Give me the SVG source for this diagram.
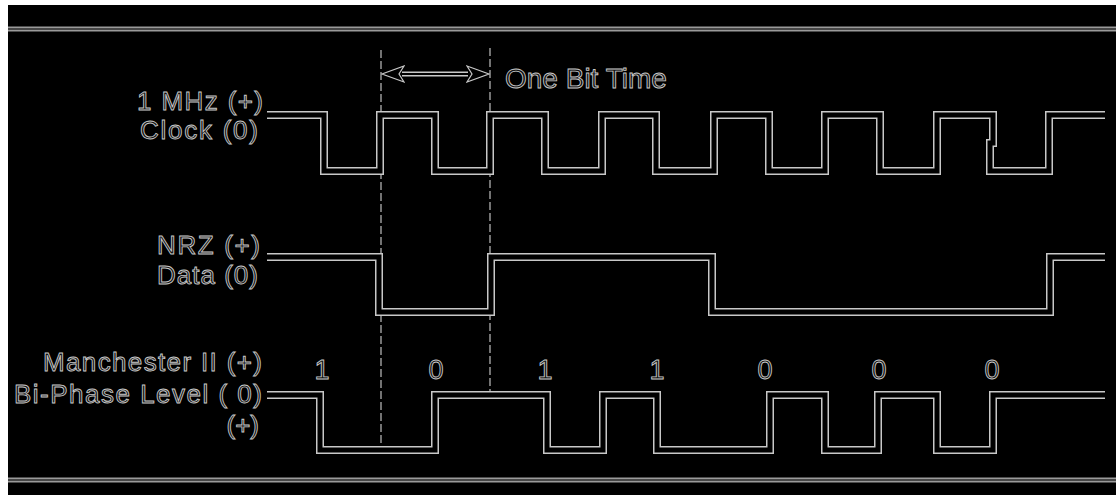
<svg xmlns="http://www.w3.org/2000/svg" width="1119" height="495" viewBox="0 0 1119 495">
<defs>
<style>
.wave-o{fill:none;stroke:#c8c8c8;stroke-width:8;stroke-linejoin:miter;stroke-linecap:butt}
.wave-i{fill:none;stroke:#000;stroke-width:5;stroke-linejoin:miter;stroke-linecap:butt}
.rule-o{fill:none;stroke:#9a9a9a;stroke-width:5}
.rule-i{fill:none;stroke:#2a2a2a;stroke-width:1.5}
.dash{fill:none;stroke:#b0b0b0;stroke-width:1.3;stroke-dasharray:8 3}
.lbl{font-family:"Liberation Sans",Arial,sans-serif;font-size:26px;fill:#111;stroke:#c8c8c8;stroke-width:0.9;text-anchor:end}
.dig{font-family:"Liberation Sans",Arial,sans-serif;font-size:27px;fill:#111;stroke:#c8c8c8;stroke-width:0.9;text-anchor:middle}
.note{font-family:"Liberation Sans",Arial,sans-serif;font-size:28px;fill:#111;stroke:#c8c8c8;stroke-width:0.9}
</style>
<marker id="ah" viewBox="0 0 24 20" refX="23" refY="10" markerWidth="24" markerHeight="20" markerUnits="userSpaceOnUse" orient="auto-start-reverse">
<path d="M1,2 L23,10 L1,18 L6,10 Z" fill="#000" stroke="#c8c8c8" stroke-width="1.2"/>
</marker>
</defs>
<rect x="0" y="0" width="1119" height="495" fill="#fff"/>
<rect x="8" y="5" width="1108" height="490" fill="#000"/>
<g id="frame">
<line class="rule-o" x1="8" y1="29" x2="1116" y2="29"/>
<line class="rule-i" x1="8" y1="29" x2="1116" y2="29"/>
<line class="rule-o" x1="8" y1="480" x2="1116" y2="480"/>
<line class="rule-i" x1="8" y1="480" x2="1116" y2="480"/>
</g>
<g id="connectors">
<line class="dash" x1="381" y1="50" x2="381" y2="447"/>
<line class="dash" x1="490" y1="48" x2="490" y2="392"/>
<line x1="402" y1="74" x2="468" y2="74" stroke="#c8c8c8" stroke-width="5"/>
<line x1="400" y1="74" x2="470" y2="74" stroke="#000" stroke-width="2"/>
<path d="M382,74 L489,74" fill="none" stroke="#000" stroke-width="0.01" marker-start="url(#ah)" marker-end="url(#ah)"/>
</g>
<g id="clock">
<path class="wave-o" d="M267,115 H324 V171 H380 V115 H435 V171 H490 V115 H545 V171 H602 V115 H656 V171 H714 V115 H769 V171 H825 V115 H880 V171 H937 V115 H993 V143 H990 V171 H1049 V115 H1105"/>
<path class="wave-i" d="M267,115 H324 V171 H380 V115 H435 V171 H490 V115 H545 V171 H602 V115 H656 V171 H714 V115 H769 V171 H825 V115 H880 V171 H937 V115 H993 V143 H990 V171 H1049 V115 H1105"/>
<text class="lbl" x="263" y="110" textLength="126" lengthAdjust="spacing">1 MHz (+)</text>
<text class="lbl" x="258" y="139" textLength="118" lengthAdjust="spacing">Clock (0)</text>
</g>
<g id="nrz">
<path class="wave-o" d="M267,257 H379 V312 H491 V257 H712 V312 H1050 V257 H1105"/>
<path class="wave-i" d="M267,257 H379 V312 H491 V257 H712 V312 H1050 V257 H1105"/>
<text class="lbl" x="260" y="254" textLength="103" lengthAdjust="spacing">NRZ (+)</text>
<text class="lbl" x="258" y="284" textLength="101" lengthAdjust="spacing">Data (0)</text>
</g>
<g id="manchester">
<path class="wave-o" d="M267,395 H320 V450 H435 V395 H547 V450 H603 V395 H657 V450 H770 V395 H825 V450 H878 V395 H937 V450 H993 V395 H1105"/>
<path class="wave-i" d="M267,395 H320 V450 H435 V395 H547 V450 H603 V395 H657 V450 H770 V395 H825 V450 H878 V395 H937 V450 H993 V395 H1105"/>
<text class="lbl" x="262" y="371" textLength="219" lengthAdjust="spacing">Manchester II (+)</text>
<text class="lbl" x="262" y="403" textLength="248" lengthAdjust="spacing">Bi-Phase Level ( 0)</text>
<text class="lbl" x="259" y="434">(+)</text>
</g>
<g id="bits">
<text class="dig" x="322" y="379">1</text>
<text class="dig" x="436" y="379">0</text>
<text class="dig" x="545" y="379">1</text>
<text class="dig" x="657" y="379">1</text>
<text class="dig" x="765" y="379">0</text>
<text class="dig" x="879" y="379">0</text>
<text class="dig" x="992" y="379">0</text>
</g>
<g id="bit-time">
<text class="note" x="505" y="88">One Bit Time</text>
</g>
</svg>
